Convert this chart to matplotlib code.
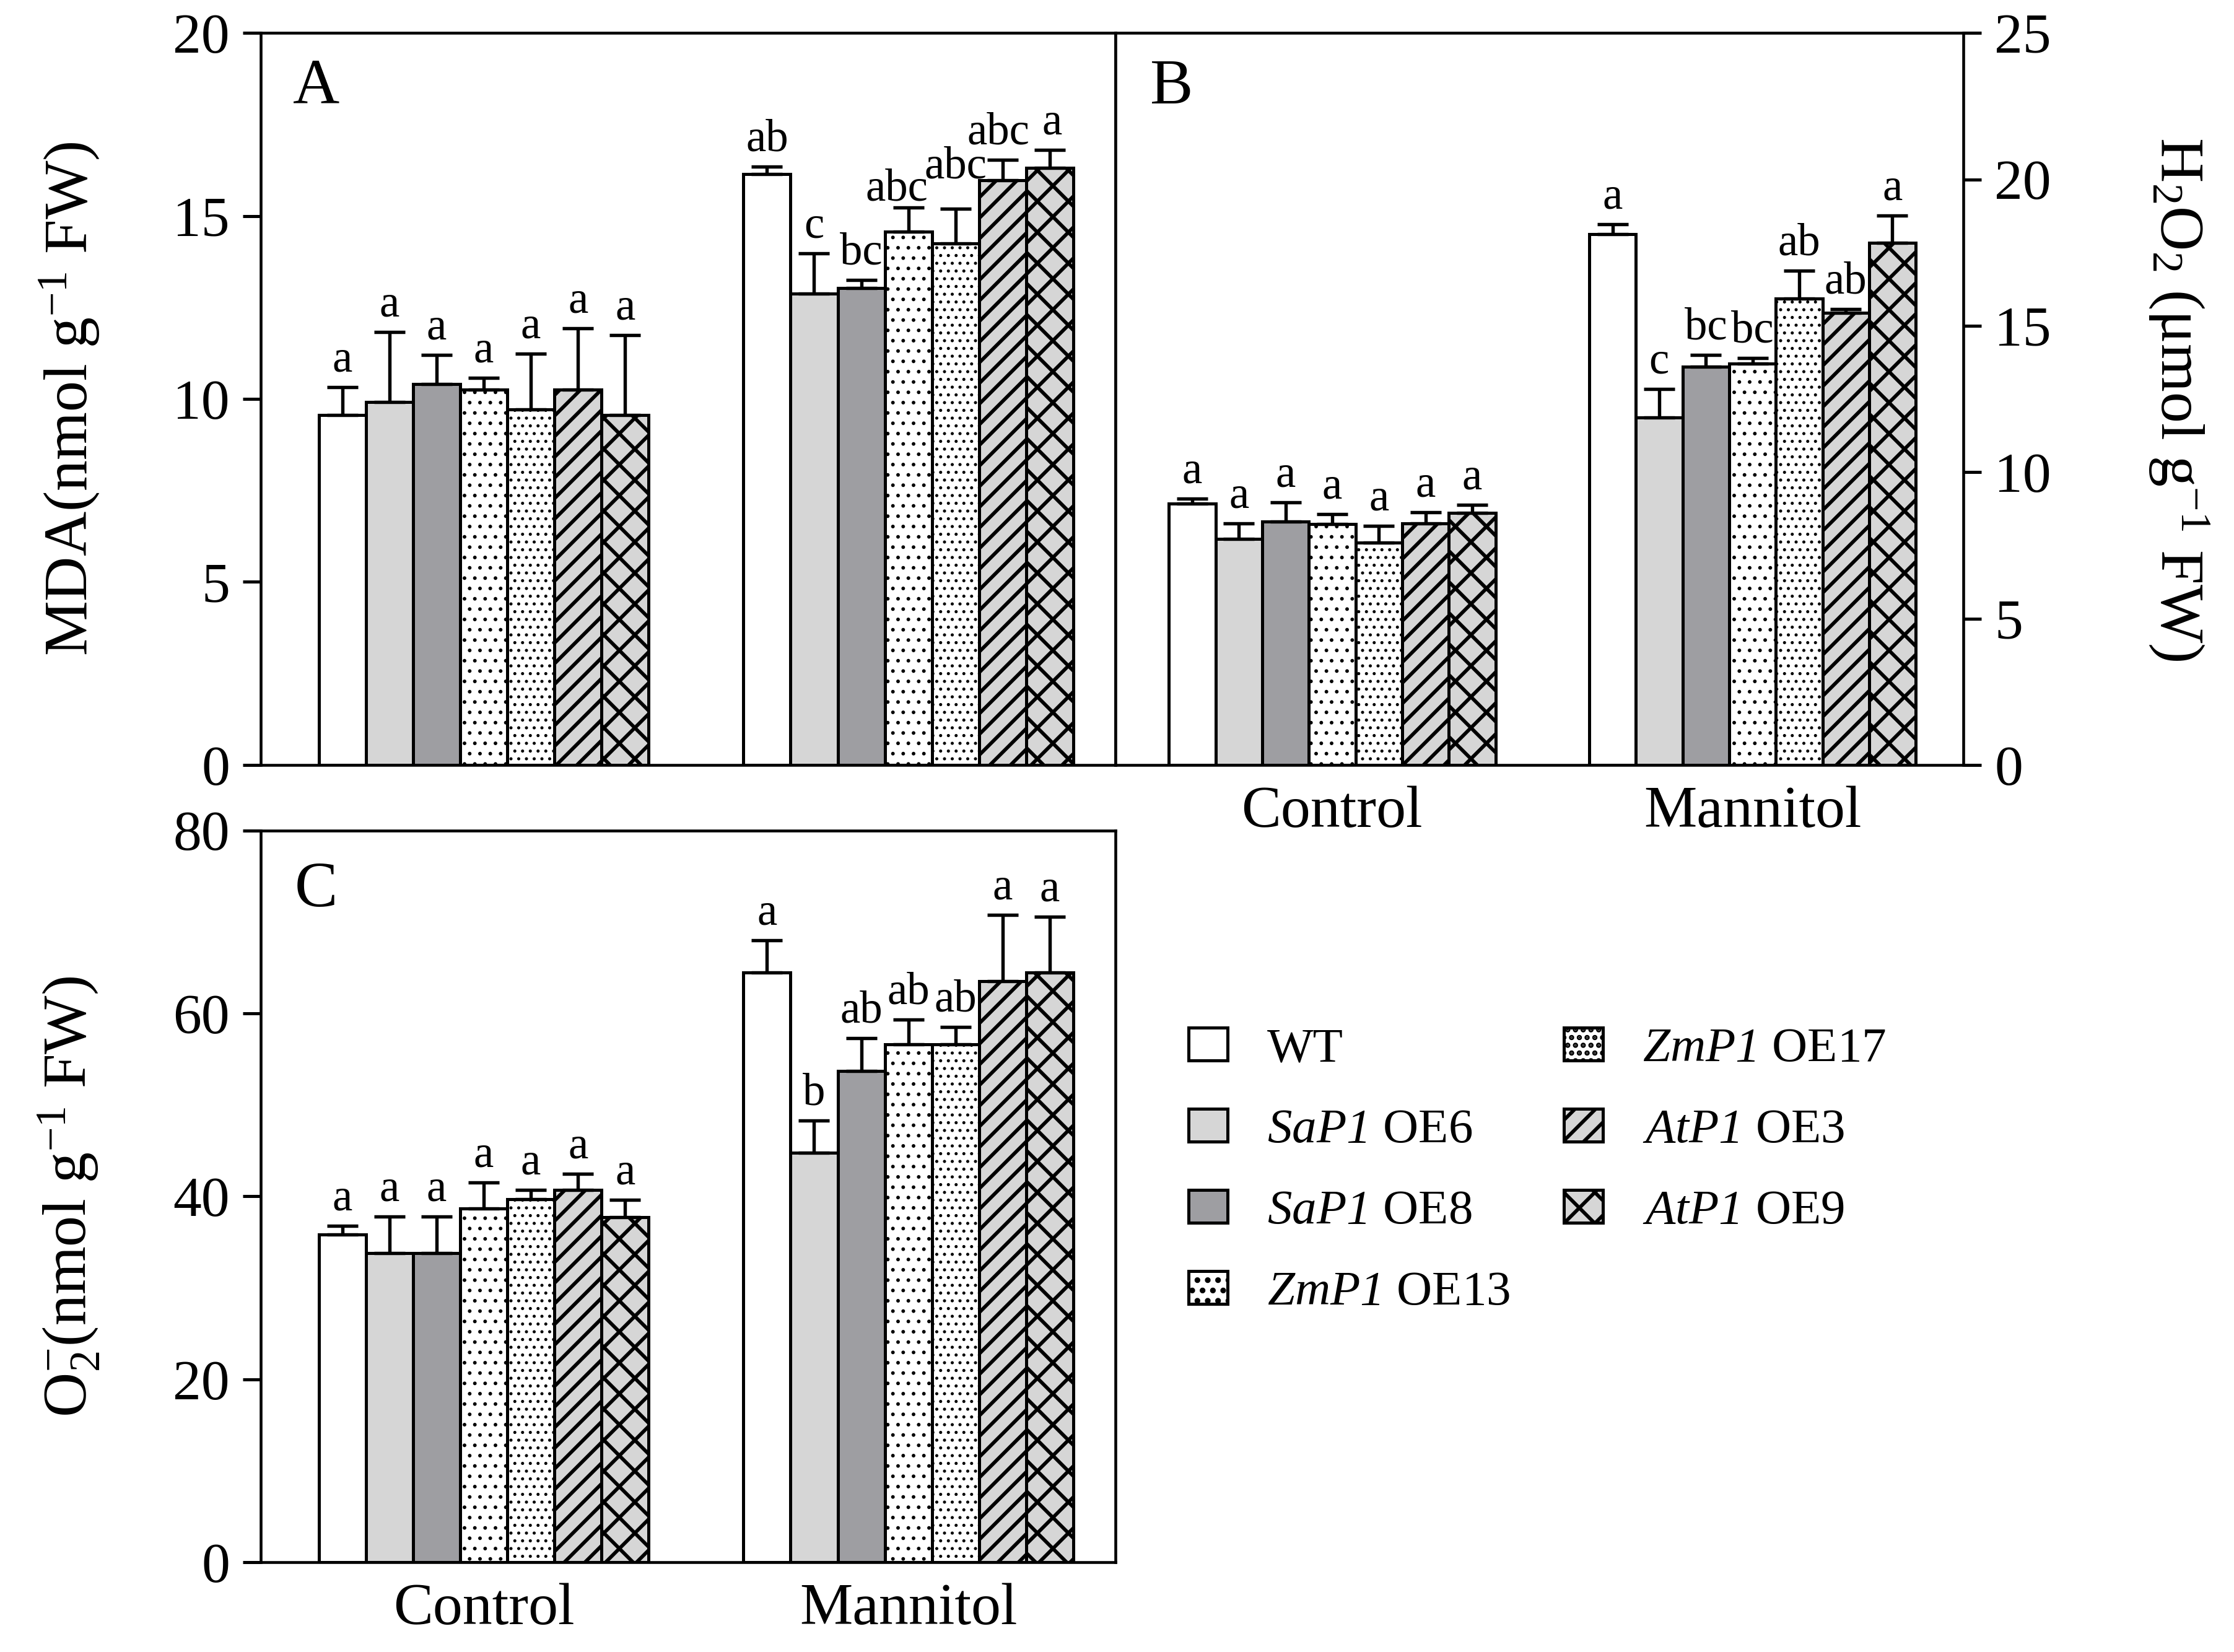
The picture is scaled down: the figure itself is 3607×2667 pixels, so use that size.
import numpy as np
import matplotlib
matplotlib.use('Agg')
import matplotlib.pyplot as plt

plt.rcParams['font.family'] = ['Liberation Serif', 'DejaVu Serif']
plt.rcParams['mathtext.fontset'] = 'custom'
plt.rcParams['mathtext.rm'] = 'Liberation Serif'
plt.rcParams['mathtext.it'] = 'Liberation Serif:italic'
plt.rcParams['mathtext.sf'] = 'Liberation Serif:italic'   # used for whole-italic gene names
plt.rcParams['hatch.linewidth'] = 1.4

groups = ['Control', 'Mannitol']
lines = ['WT', r'$\mathsf{SaP1}$ OE6', r'$\mathsf{SaP1}$ OE8', r'$\mathsf{ZmP1}$ OE13',
         r'$\mathsf{ZmP1}$ OE17', r'$\mathsf{AtP1}$ OE3', r'$\mathsf{AtP1}$ OE9']

# MDA (nmol g-1 FW)
mda_ctrl = [9.56, 9.91, 10.41, 10.26, 9.72, 10.26, 9.56]
mda_ctrl_err = [0.77, 1.92, 0.79, 0.31, 1.52, 1.67, 2.18]
mda_man = [16.14, 12.88, 13.03, 14.58, 14.25, 15.97, 16.31]
mda_man_err = [0.21, 1.10, 0.22, 0.66, 0.94, 0.56, 0.49]
mda_let_ctrl = ['a', 'a', 'a', 'a', 'a', 'a', 'a']
mda_let_man = ['ab', 'c', 'bc', 'abc', 'abc', 'abc', 'a']

# H2O2 (umol g-1 FW)
h2o2_ctrl = [8.92, 7.71, 8.32, 8.23, 7.59, 8.25, 8.60]
h2o2_ctrl_err = [0.17, 0.54, 0.65, 0.34, 0.58, 0.39, 0.29]
h2o2_man = [18.13, 11.86, 13.60, 13.70, 15.92, 15.44, 17.84]
h2o2_man_err = [0.34, 0.99, 0.40, 0.20, 0.97, 0.14, 0.93]
h2o2_let_ctrl = ['a', 'a', 'a', 'a', 'a', 'a', 'a']
h2o2_let_man = ['a', 'c', 'bc', 'bc', 'ab', 'ab', 'a']

# O2- (nmol g-1 FW)
o2_ctrl = [35.8, 33.8, 33.8, 38.7, 39.7, 40.7, 37.7]
o2_ctrl_err = [1.0, 4.0, 4.0, 2.8, 1.0, 1.8, 1.9]
o2_man = [64.5, 44.8, 53.7, 56.6, 56.6, 63.5, 64.5]
o2_man_err = [3.5, 3.5, 3.6, 2.7, 1.9, 7.3, 6.1]
o2_let_ctrl = ['a', 'a', 'a', 'a', 'a', 'a', 'a']
o2_let_man = ['a', 'b', 'ab', 'ab', 'ab', 'a', 'a']

fills = ['white', '#d6d6d6', '#9e9ea2', 'white', 'white', '#d6d6d6', '#d6d6d6']
hatches = [None, None, None, '...', '....', '///', 'xx']
hatch_lw = [1.4, 1.4, 1.4, 0.6, 0.6, 1.4, 1.4]

W = 0.111


def draw(ax, ctrl, ctrl_err, man, man_err, let_ctrl, let_man, ymax, lift=None, shift=None):
    off = ymax * 0.008
    if lift is None:
        lift = [0] * 7
    if shift is None:
        shift = [0] * 7
    for i in range(7):
        xs = np.array([0, 1]) + (i - 3) * W
        vals = [ctrl[i], man[i]]
        errs = [ctrl_err[i], man_err[i]]
        bars = ax.bar(xs, vals, width=W, color=fills[i], edgecolor='black',
                      hatch=hatches[i], linewidth=1.2, label=lines[i], zorder=2)
        for b in bars:
            if hasattr(b, 'set_hatch_linewidth'):
                b.set_hatch_linewidth(hatch_lw[i])
        ax.errorbar(xs, vals, yerr=[[0, 0], errs], fmt='none', ecolor='black',
                    elinewidth=1.3, capsize=6, capthick=1.3, zorder=3)
        dy = [0, lift[i]]
        dx = [0, shift[i]]
        for x, v, e, t, d, s in zip(xs, vals, errs, [let_ctrl[i], let_man[i]], dy, dx):
            ax.text(x + s, v + e + off + d, t, ha='center', va='bottom', fontsize=17.5)
    ax.set_ylim(0, ymax)
    ax.tick_params(axis='y', direction='out', length=7, width=1.2, labelsize=22, pad=5)
    ax.tick_params(axis='x', length=0, labelsize=23, pad=8)
    for s in ax.spines.values():
        s.set_linewidth(1.1)


fig = plt.figure(figsize=(3607 / 300, 2667 / 300), dpi=300)

axA = fig.add_axes([0.1167, 0.537, 0.3827, 0.443])
draw(axA, mda_ctrl, mda_ctrl_err, mda_man, mda_man_err, mda_let_ctrl, mda_let_man, 20,
     lift=[0, 0, 0, -0.25, 0.42, 0, 0], shift=[0, 0, 0, -0.028, 0, -0.01, 0.005])
axA.set_xlim(-0.525, 1.488)
axA.set_xticks([])
axA.set_yticks([0, 5, 10, 15, 20])
axA.set_ylabel(r'MDA(nmol g$^{-1}$ FW)', fontsize=24, labelpad=28)
axA.text(0.065, 0.925, 'A', transform=axA.transAxes, ha='center', va='center', fontsize=25)

axB = fig.add_axes([0.4994, 0.537, 0.3795, 0.443])
draw(axB, h2o2_ctrl, h2o2_ctrl_err, h2o2_man, h2o2_man_err, h2o2_let_ctrl, h2o2_let_man, 25)
axB.set_xlim(-0.515, 1.502)
axB.set_xticks([0, 1])
axB.set_xticklabels(groups)
axB.set_yticks([0, 5, 10, 15, 20, 25])
axB.yaxis.tick_right()
axB.yaxis.set_label_position('right')
axB.set_ylabel(r'H$_2$O$_2$ (μmol g$^{-1}$ FW)', fontsize=24, rotation=270, labelpad=62)
axB.text(0.066, 0.925, 'B', transform=axB.transAxes, ha='center', va='center', fontsize=25)

axC = fig.add_axes([0.1167, 0.0543, 0.3827, 0.443])
draw(axC, o2_ctrl, o2_ctrl_err, o2_man, o2_man_err, o2_let_ctrl, o2_let_man, 80)
axC.set_xlim(-0.525, 1.488)
axC.set_xticks([0, 1])
axC.set_xticklabels(groups)
axC.set_yticks([0, 20, 40, 60, 80])
axC.set_ylabel(r'O$_2^{-}$(nmol g$^{-1}$ FW)', fontsize=24, labelpad=28)
axC.text(0.065, 0.918, 'C', transform=axC.transAxes, ha='center', va='center', fontsize=25)

handles, labels = axC.get_legend_handles_labels()
fig.legend(handles, labels, loc='upper left', bbox_to_anchor=(0.532, 0.378), ncol=2,
           frameon=False, fontsize=19, handlelength=0.8, handleheight=0.65,
           labelspacing=0.75, columnspacing=1.1, handletextpad=0.8,
           borderpad=0, borderaxespad=0)

fig.savefig('out.png', dpi=300)
